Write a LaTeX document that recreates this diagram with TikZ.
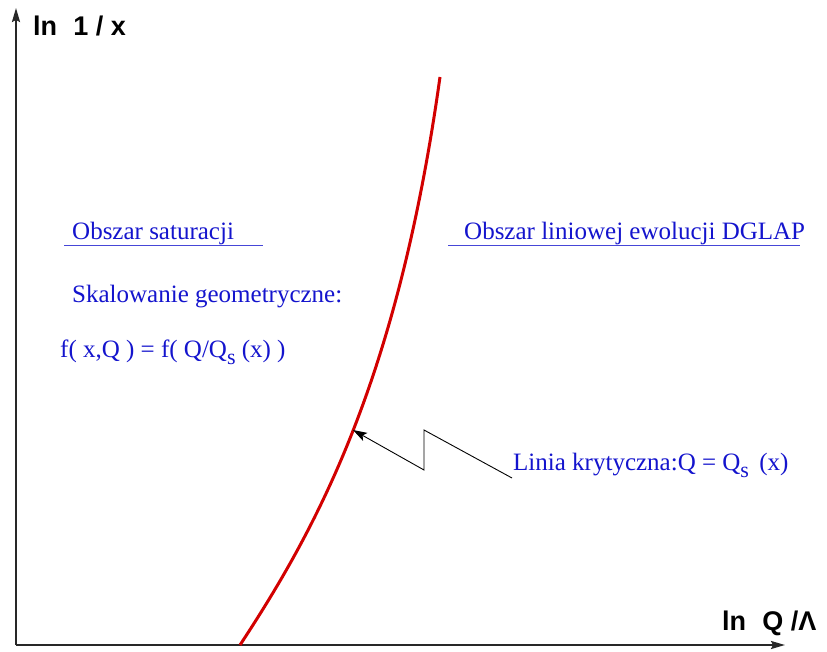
\documentclass[tikz,border=0pt]{standalone}
\usepackage{fontspec}
\setmainfont{Liberation Serif}
\newfontfamily\axfont{Liberation Sans}
\usetikzlibrary{arrows.meta}
\definecolor{txtblue}{RGB}{20,20,205}
\definecolor{ulblue}{RGB}{70,70,215}
\definecolor{curvered}{RGB}{210,0,0}
\definecolor{axgray}{RGB}{40,40,40}
\tikzset{
  lbl/.style={text=txtblue,font=\fontsize{25}{25}\selectfont,inner sep=0pt,anchor=base west},
  axlbl/.style={font=\axfont\bfseries\fontsize{27}{27}\selectfont,inner sep=0pt,anchor=base west},
  axisline/.style={draw=axgray,line width=2pt},
  uline/.style={draw=ulblue,line width=1pt},
}
\newcommand{\subs}{\raisebox{-7pt}{\fontsize{22}{22}\selectfont s}}
\begin{document}
\begin{tikzpicture}[x=1pt,y=-1pt]
\useasboundingbox (0,0) rectangle (827,652);
% axes
\coordinate (O) at (16,645);
\coordinate (Ytip) at (16,8);
\coordinate (Xtip) at (785,645);
\draw[axisline,-{Stealth[length=14pt,width=8pt,inset=2pt]}] (O) -- (Ytip);
\draw[axisline,-{Stealth[length=14pt,width=8pt,inset=2pt]}] (O) -- (Xtip);
\node[axlbl] (ylab) at (33,36) {ln\hspace{0.6em}1 / x};
\node[axlbl] (xlab) at (722,630) {ln\hspace{0.6em}Q /Λ};
% critical curve
\coordinate (cb) at (240,645);
\coordinate (ct) at (440,77);
\draw[curvered,line width=3pt] (cb) .. controls (319,525) and (398,377) .. (ct);
% labels
\node[lbl] (sat) at (72,240) {Obszar saturacji};
\draw[uline] (64,245.5) -- (263,245.5);
\node[lbl] (dglap) at (464,240) {Obszar liniowej ewolucji DGLAP};
\draw[uline] (448,245.5) -- (800,245.5);
\node[lbl] (skal) at (72,302) {Skalowanie geometryczne:};
\node[lbl] (form) at (60,357) {f( x,Q ) = f( Q/Q\subs\ (x) )};
\node[lbl] (kryt) at (513,470) {Linia krytyczna:Q = Q\subs\ \,(x)};
% zigzag arrow
\coordinate (a1) at (512,478);
\coordinate (a2) at (424,430);
\coordinate (a3) at (424,470);
\coordinate (a4) at (353,430);
\draw[black,line width=0.9pt,-{Stealth[length=14pt,width=9pt,inset=3pt]}] (a1) -- (a2) -- (a3) -- (a4);
\end{tikzpicture}
\end{document}
